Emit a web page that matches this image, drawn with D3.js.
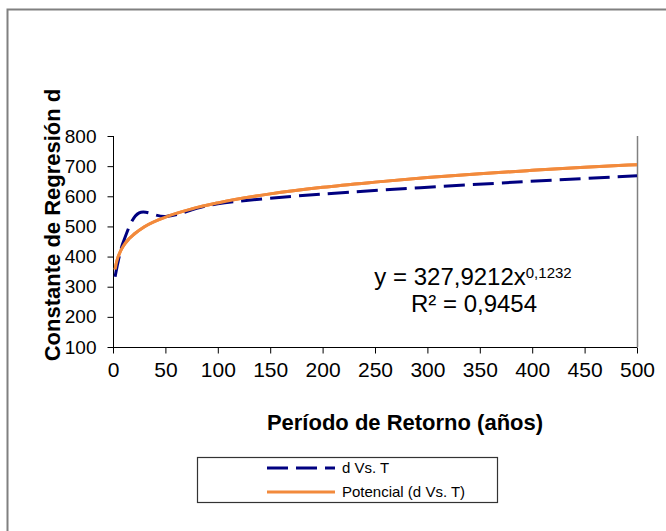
<!DOCTYPE html>
<html>
<head>
<meta charset="utf-8">
<script src="https://cdn.jsdelivr.net/npm/d3@7"></script>
<style>
    body { margin: 0; background: #fff; }
    svg { font-family: "Liberation Sans", Arial, sans-serif; display: block; }
</style>
</head>
<body>
<svg id="chart" width="666" height="531"></svg>
<script>
// observed series: d Vs. T
var periods = [2, 5, 10, 25, 50, 100, 500];
var dValues = [333, 385, 450, 545, 533, 575, 668];

// power trendline
var trendT = [2, 3, 5, 7, 10, 15, 20, 30, 50, 75, 100, 150, 200, 250, 300, 350, 400, 450, 500];
var trendD = [357, 375, 400, 417, 436, 458, 474, 499, 531, 558, 578, 608, 630, 647, 662, 675, 686, 696, 705];

var xTicks = [0, 50, 100, 150, 200, 250, 300, 350, 400, 450, 500];
var yTicks = [100, 200, 300, 400, 500, 600, 700, 800];

var seriesNames = ['d Vs. T', 'Potencial (d Vs. T)'];

// layout
let plotLeft = 113;
let plotRight = 637;
let plotTop = 136;
let plotBottom = 347;

let svg = d3.select('#chart');

// outer chart frame (runs off the right and bottom of the picture)
svg.append('rect')
    .attr('x', 7.5)
    .attr('y', 9.5)
    .attr('width', 720)
    .attr('height', 600)
    .attr('fill', 'none')
    .attr('stroke', '#808080')
    .attr('stroke-width', 2);

let x = d3.scaleLinear().domain([0, 500]).range([plotLeft, plotRight]);
let y = d3.scaleLinear().domain([100, 800]).range([plotBottom, plotTop]);

// right border of plot area
svg.append('line')
    .attr('x1', plotRight + 0.5)
    .attr('x2', plotRight + 0.5)
    .attr('y1', plotTop)
    .attr('y2', plotBottom)
    .attr('stroke', '#808080')
    .attr('stroke-width', 1.5);

// axes
let xAxis = svg.append('g')
    .attr('transform', 'translate(0,' + (plotBottom + 0.5) + ')')
    .call(d3.axisBottom(x).tickValues(xTicks).tickSize(6).tickPadding(9).tickFormat(d3.format('d')));

let yAxis = svg.append('g')
    .attr('transform', 'translate(' + (plotLeft + 0.5) + ',0)')
    .call(d3.axisLeft(y).tickValues(yTicks).tickSize(6).tickPadding(11).tickFormat(d3.format('d')));

xAxis.selectAll('text').attr('font-size', 21).attr('fill', '#000');
yAxis.selectAll('text').attr('font-size', 19).attr('fill', '#000');
svg.selectAll('.domain, .tick line').attr('stroke', '#000');
xAxis.select('.domain').attr('d', 'M' + plotLeft + ',0H' + plotRight);
yAxis.select('.domain').attr('d', 'M0,' + plotTop + 'V' + plotBottom);

// trendline (orange)
let trendLine = d3.line()
    .x((d, i) => x(trendT[i]))
    .y(d => y(d))
    .curve(d3.curveMonotoneX);

svg.append('path')
    .attr('d', trendLine(trendD))
    .attr('fill', 'none')
    .attr('stroke', '#f28a3c')
    .attr('stroke-width', 3);

// data series (dashed navy, smoothed)
let dataLine = d3.line()
    .x((d, i) => x(periods[i]))
    .y(d => y(d))
    .curve(d3.curveCatmullRom.alpha(0.5));

svg.append('path')
    .attr('d', dataLine(dValues))
    .attr('fill', 'none')
    .attr('stroke', '#000080')
    .attr('stroke-width', 3)
    .attr('stroke-dasharray', '21,8');

// redraw orange on top where overlapping looks like reference (orange over navy)
svg.append('path')
    .attr('d', trendLine(trendD))
    .attr('fill', 'none')
    .attr('stroke', '#f28a3c')
    .attr('stroke-width', 3);

// axis titles
svg.append('text')
    .attr('x', 405)
    .attr('y', 430)
    .attr('text-anchor', 'middle')
    .attr('font-size', 22)
    .attr('font-weight', 'bold')
    .text('Período de Retorno (años)');

svg.append('text')
    .attr('transform', 'translate(60,225) rotate(-90)')
    .attr('text-anchor', 'middle')
    .attr('font-size', 22)
    .attr('font-weight', 'bold')
    .text('Constante de Regresión d');

// equation
let eq = svg.append('text')
    .attr('x', 473)
    .attr('y', 285)
    .attr('text-anchor', 'middle')
    .attr('font-size', 24);
eq.append('tspan').text('y = 327,9212x');
eq.append('tspan').attr('font-size', 15).attr('dy', -7).text('0,1232');

svg.append('text')
    .attr('x', 474)
    .attr('y', 312)
    .attr('text-anchor', 'middle')
    .attr('font-size', 24)
    .text('R² = 0,9454');

// legend
let legend = svg.append('g');
legend.append('rect')
    .attr('x', 197.5)
    .attr('y', 457.5)
    .attr('width', 300)
    .attr('height', 45)
    .attr('fill', '#fff')
    .attr('stroke', '#333')
    .attr('stroke-width', 1.2);

let legendRows = legend.selectAll('g.row')
    .data(seriesNames)
    .enter()
    .append('g')
    .attr('class', 'row')
    .attr('transform', (d, i) => 'translate(0,' + (468 + i * 24) + ')');

legendRows.append('line')
    .attr('x1', 267)
    .attr('x2', 335)
    .attr('stroke', (d, i) => i == 0 ? '#000080' : '#f28a3c')
    .attr('stroke-width', 3)
    .attr('stroke-dasharray', (d, i) => i == 0 ? '21,8' : null);

legendRows.append('text')
    .attr('x', 342)
    .attr('y', 5)
    .attr('font-size', 15)
    .text(d => d);
</script>
</body>
</html>
